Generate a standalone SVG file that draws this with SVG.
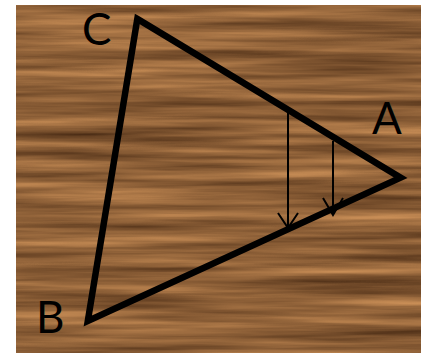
<svg xmlns="http://www.w3.org/2000/svg" width="421" height="353" viewBox="0 0 421 353">
  <style>
    .edge { fill: none; stroke: #000; stroke-width: 6.5; stroke-linejoin: miter; stroke-miterlimit: 10; }
    .arrow { fill: none; stroke: #000; stroke-width: 2; stroke-linecap: butt; }
    .head { fill: none; stroke: #000; stroke-width: 2; stroke-linejoin: miter; }
    .label { font-family: "Lato", "Liberation Sans", sans-serif; font-size: 44px; fill: #000; }
  </style>
  <defs>
    <filter id="wood" x="0" y="0" width="100%" height="100%" color-interpolation-filters="sRGB">
      <feTurbulence type="fractalNoise" baseFrequency="0.004 0.1" numOctaves="4" seed="7" result="n"/>
      <feColorMatrix in="n" type="matrix" values="0.62 0 0 0 0.25  0.48 0 0 0 0.14  0.32 0 0 0 0.06  0 0 0 0 1"/>
    </filter>
  </defs>
  <rect x="0" y="0" width="421" height="353" fill="#fff"/>
  <g id="background">
    <rect x="16" y="5" width="405" height="348" fill="#8c5a30"/>
    <rect x="16" y="5" width="405" height="348" filter="url(#wood)"/>
  </g>
  <g id="triangle">
    <polygon class="edge" points="137.3,18.9 400.6,177.7 87.8,320.9"/>
  </g>
  <g id="connectors">
    <line class="arrow" x1="288" y1="111" x2="288" y2="227"/>
    <polyline class="head" points="278,213 288,228 298,213"/>
    <line class="arrow" x1="333" y1="141" x2="333" y2="214"/>
    <polyline class="head" points="323,198 333,215 343,198"/>
  </g>
  <g id="label-C"><text class="label" x="82" y="45">C</text></g>
  <g id="label-A"><text class="label" x="372" y="134">A</text></g>
  <g id="label-B"><text class="label" x="36" y="333">B</text></g>
</svg>
